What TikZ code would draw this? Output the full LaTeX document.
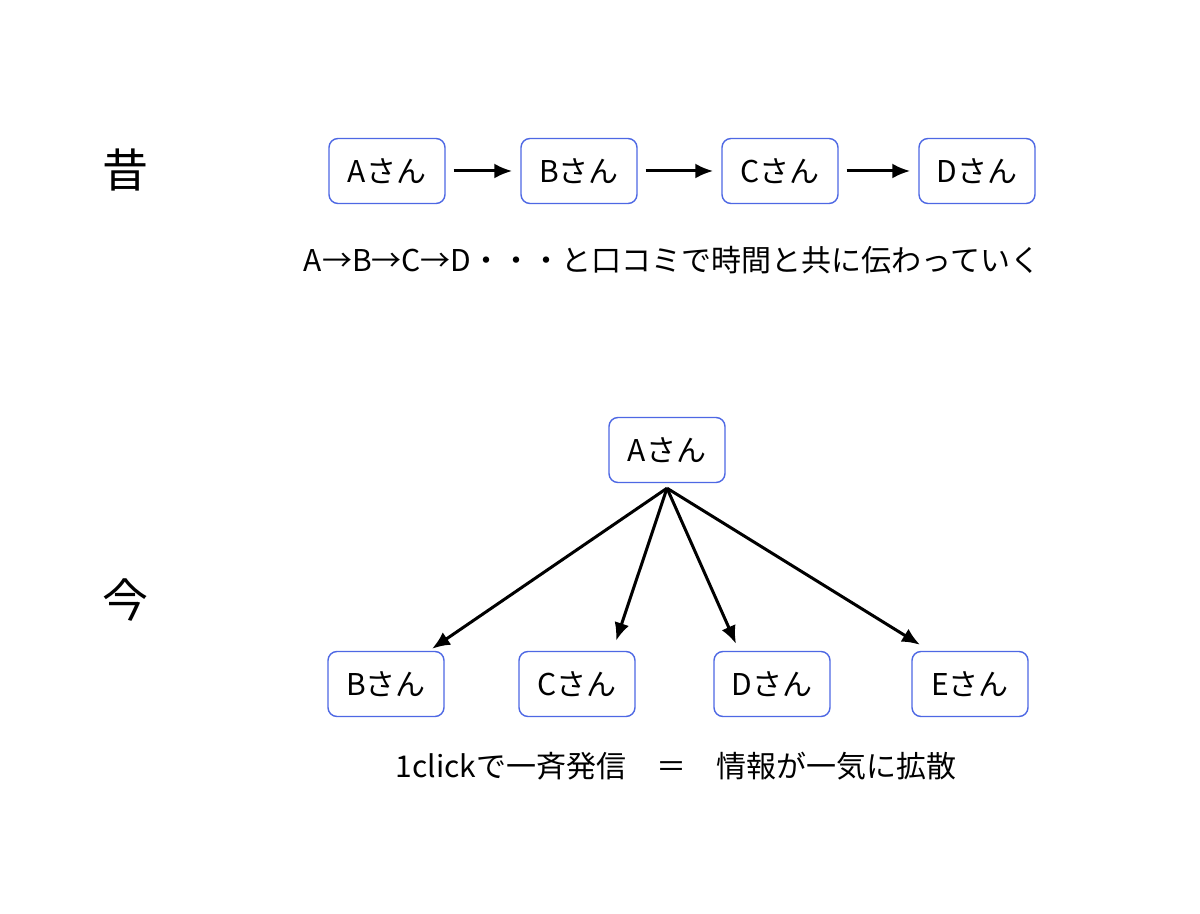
\documentclass[tikz,border=0pt]{standalone}
\usepackage{fontspec}
\setmainfont{Noto Sans CJK JP}
\usetikzlibrary{arrows.meta,calc}
\definecolor{boxblue}{RGB}{78,104,228}
\tikzstyle{person}=[draw=boxblue,line width=0.7pt,rounded corners=4.5pt,minimum width=58pt,minimum height=32.5pt,inner sep=0pt,font=\fontsize{15}{18}\selectfont]
\tikzstyle{era}=[font=\fontsize{23}{26}\selectfont]
\tikzstyle{caption}=[font=\fontsize{15}{18}\selectfont]
\tikzstyle{pass} = [draw,line width=1.5pt,-{Latex[length=9pt,width=7.5pt]}]

\begin{document}
\begin{tikzpicture}[x=0.5pt,y=-0.5pt]
    \useasboundingbox[fill=white] (0,0) rectangle (1200,914);

    % past: one after another
    \node[era] (past) at (125,170) {昔};
    \foreach \pos/ \name/ \who in {{(387,171)/a1/A}, {(579,171)/b1/B}, {(780,171)/c1/C}, {(977,171)/d1/D}}
        \node[person] (\name) at \pos {\who さん};
    \foreach \source/ \dest in {a1/b1, b1/c1, c1/d1}
        \path[pass,shorten <=4pt,shorten >=4pt] (\source) -- (\dest);
    \node[caption] (pastnote) at (672,260) {A→B→C→D・・・と口コミで時間と共に伝わっていく};

    % now: all at once
    \node[era] (now) at (125,600) {今};
    \node[person] (a2) at (667,450) {Aさん};
    \foreach \pos/ \name/ \who in {{(386,684)/b2/B}, {(577,684)/c2/C}, {(772,684)/d2/D}, {(970,684)/e2/E}}
        \node[person] (\name) at \pos {\who さん};
    \coordinate (hub) at ($(a2.south)+(0,-2.5pt)$);
    \foreach \dest/ \dx/ \dy in {b2/23pt/1pt, c2/19.5pt/5pt, d2/-18pt/3.5pt, e2/-25pt/3pt}
        \path[pass] (hub) -- ($(\dest.north)+(\dx,\dy)$);
    \node[caption] (nownote) at (676,766) {1clickで一斉発信　＝　情報が一気に拡散};

\end{tikzpicture}
\end{document}
